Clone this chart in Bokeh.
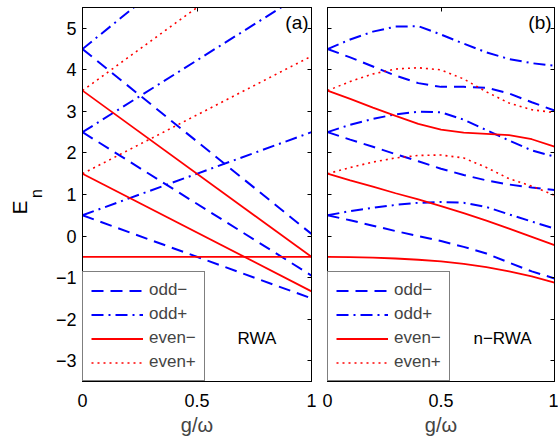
import math
from bokeh.plotting import figure
from bokeh.models import Range1d, LinearAxis, FixedTicker, Legend, LegendItem, Label
from bokeh.layouts import row
from bokeh.embed import file_html
from bokeh.resources import INLINE

FONT = "Liberation Sans"

# ---------------- data ----------------
# Panel (a) RWA: straight lines, values read at g/omega = 0 and g/omega = 1
RWA_G = [0.0, 1.0]
rwa_odd_minus = [[0.5, -1.5], [2.5, -0.95], [4.5, 0.05]]
rwa_odd_plus = [[0.5, 2.5], [2.5, 5.96], [4.5, 8.97]]
rwa_even_minus = [[-0.5, -0.5], [1.5, -1.33], [3.5, -0.5]]
rwa_even_plus = [[1.5, 4.33], [3.5, 7.5]]

# Panel (b) n-RWA: curves read at g/omega = 0, 0.1, ..., 1
NRWA_G = [0.0, 0.1, 0.2, 0.3, 0.4, 0.5, 0.6, 0.7, 0.8, 0.9, 1.0]
nrwa_odd_minus = [
    [0.5, 0.38, 0.25, 0.12, 0.0, -0.12, -0.26, -0.42, -0.64, -0.85, -1.02],
    [2.5, 2.32, 2.15, 1.97, 1.8, 1.62, 1.47, 1.34, 1.24, 1.17, 1.11],
    [4.5, 4.3, 4.08, 3.86, 3.68, 3.59, 3.59, 3.57, 3.43, 3.22, 3.02],
]
nrwa_odd_plus = [
    [0.5, 0.6, 0.68, 0.75, 0.8, 0.82, 0.8, 0.7, 0.52, 0.35, 0.18],
    [2.5, 2.68, 2.82, 2.93, 2.99, 2.98, 2.8, 2.55, 2.3, 2.06, 1.91],
    [4.5, 4.73, 4.92, 5.04, 5.05, 4.85, 4.63, 4.42, 4.26, 4.16, 4.1],
]
nrwa_even_minus = [
    [-0.5, -0.505, -0.52, -0.54, -0.57, -0.61, -0.67, -0.75, -0.85, -0.97, -1.12],
    [1.5, 1.34, 1.19, 1.03, 0.88, 0.72, 0.55, 0.37, 0.18, -0.02, -0.22],
    [3.5, 3.3, 3.09, 2.89, 2.7, 2.56, 2.49, 2.46, 2.43, 2.33, 2.15],
]
nrwa_even_plus = [
    [1.5, 1.65, 1.78, 1.88, 1.94, 1.95, 1.88, 1.65, 1.38, 1.2, 0.98],
    [3.5, 3.72, 3.9, 4.02, 4.05, 4.0, 3.78, 3.47, 3.2, 3.04, 2.97],
]

X_TICKS = [0, 0.5, 1]
X_TICK_LABELS = ["0", "0.5", "1"]
Y_TICKS = [-3, -2, -1, 0, 1, 2, 3, 4, 5]
Y_TICK_LABELS = ["\u22123", "\u22122", "\u22121", "0", "1", "2", "3", "4", "5"]
LEGEND_LABELS = ["odd\u2212", "odd+", "even\u2212", "even+"]
PANEL_TAGS = ["(a)", "(b)"]
METHOD_LABELS = ["RWA", "n\u2212RWA"]
Y_LABEL_MAIN = "E"
Y_LABEL_SUB = "n"

STYLES = [
    dict(line_color="#0000ff", line_width=2, line_dash="12 7"),
    dict(line_color="#0000ff", line_width=2, line_dash="12 5 2 5"),
    dict(line_color="#ff0000", line_width=1.8, line_dash="solid"),
    dict(line_color="#ff0000", line_width=1.6, line_dash="2 4"),
]

FIG_H = 435
TOP_B = 7
FRAME_H = 374
BOT_B = FIG_H - TOP_B - FRAME_H
LABEL_W = 46


def style_axis(ax, ticks, labels, show):
    ax.ticker = FixedTicker(ticks=ticks)
    ax.major_tick_in = 4
    ax.major_tick_out = 0
    ax.minor_tick_in = 0
    ax.minor_tick_out = 0
    ax.axis_line_color = "black"
    ax.major_tick_line_color = "black"
    if show:
        ax.major_label_overrides = {t: s for t, s in zip(ticks, labels)}
        ax.major_label_text_font = FONT
        ax.major_label_text_font_size = "18px"
        ax.major_label_text_color = "black"
    else:
        ax.major_label_text_font_size = "0px"
        ax.major_label_standoff = 0


def make_panel(g, groups, tag, method, first):
    p = figure(
        frame_width=229 if first else 227,
        frame_height=FRAME_H,
        x_range=Range1d(0, 1),
        y_range=Range1d(-3.5, 5.5),
        output_backend="svg",
        toolbar_location=None,
        min_border_left=(82 - LABEL_W) if first else 8,
        min_border_right=8 if first else 4,
        min_border_top=TOP_B,
        min_border_bottom=BOT_B,
    )
    p.grid.visible = False
    p.outline_line_color = "black"
    p.background_fill_color = "white"
    p.border_fill_color = "white"

    style_axis(p.xaxis[0], X_TICKS, X_TICK_LABELS, True)
    p.xaxis[0].major_label_standoff = 12
    p.xaxis[0].axis_label = "g/\u03c9"
    p.xaxis[0].axis_label_text_font = FONT
    p.xaxis[0].axis_label_text_font_size = "20px"
    p.xaxis[0].axis_label_text_font_style = "normal"
    p.xaxis[0].axis_label_standoff = 4
    style_axis(p.yaxis[0], Y_TICKS, Y_TICK_LABELS, first)
    if first:
        p.yaxis[0].major_label_standoff = 6

    top = LinearAxis()
    style_axis(top, X_TICKS, X_TICK_LABELS, False)
    p.add_layout(top, "above")
    right = LinearAxis()
    style_axis(right, Y_TICKS, Y_TICK_LABELS, False)
    p.add_layout(right, "right")

    items = []
    for series, style, lab in zip(groups, STYLES, LEGEND_LABELS):
        rs = []
        for ys in series:
            rs.append(p.line(x=g, y=ys, **style))
        items.append(LegendItem(label=lab, renderers=[rs[0]]))

    legend = Legend(
        items=items,
        location="bottom_left",
        margin=0,
        padding=8,
        spacing=4,
        label_height=19,
        glyph_height=19,
        glyph_width=52,
        label_standoff=6,
        border_line_color="black",
        border_line_width=1,
        label_text_font=FONT,
        label_text_font_size="17px",
        background_fill_color="white",
        background_fill_alpha=1,
    )
    p.add_layout(legend, "center")

    p.add_layout(Label(x=0.987, y=5.14, text=tag, text_align="right", text_baseline="middle",
                       text_font=FONT, text_font_size="19px", text_color="black"))
    p.add_layout(Label(x=0.677 if first else 0.643, y=-2.47, text=method, text_align="left",
                       text_baseline="middle", text_font=FONT, text_font_size="17px",
                       text_color="black"))
    return p


# narrow strip carrying the rotated y-axis title "E_n"
lab = figure(frame_width=LABEL_W, frame_height=FIG_H, x_range=Range1d(0, LABEL_W),
             y_range=Range1d(0, FIG_H), output_backend="svg", toolbar_location=None,
             x_axis_location=None, y_axis_location=None, min_border=0)
lab.grid.visible = False
lab.outline_line_color = None
lab.add_layout(Label(x=19, y=FIG_H - 200, text=Y_LABEL_MAIN, angle=math.pi / 2,
                     text_align="center", text_baseline="middle", text_font=FONT,
                     text_font_size="21px", text_color="black"))
lab.add_layout(Label(x=36, y=FIG_H - 186, text=Y_LABEL_SUB, angle=math.pi / 2,
                     text_align="center", text_baseline="middle", text_font=FONT,
                     text_font_size="16px", text_color="black"))

p1 = make_panel(RWA_G, [rwa_odd_minus, rwa_odd_plus, rwa_even_minus, rwa_even_plus],
                PANEL_TAGS[0], METHOD_LABELS[0], True)
p2 = make_panel(NRWA_G, [nrwa_odd_minus, nrwa_odd_plus, nrwa_even_minus, nrwa_even_plus],
                PANEL_TAGS[1], METHOD_LABELS[1], False)

layout = row(lab, p1, p2)
open("out.html", "w").write(file_html(layout, INLINE))
